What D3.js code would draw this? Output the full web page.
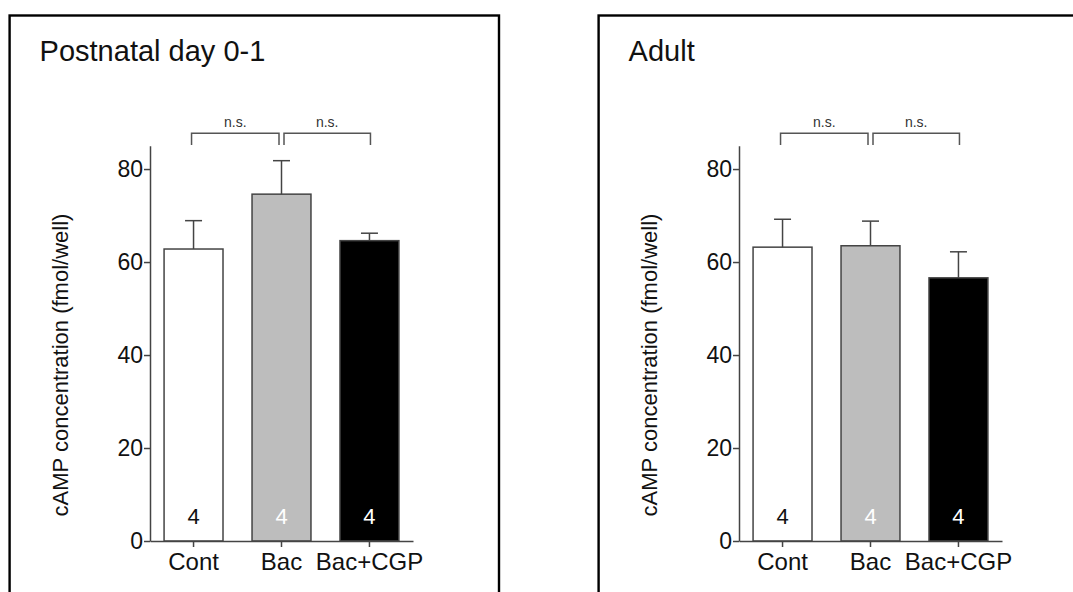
<!DOCTYPE html>
<html>
  <head>
    <meta charset="utf-8">
    <title>cAMP concentration</title>
    <style>
      body { margin: 0; background: #fff; }
      text { font-family: "Liberation Sans", Arial, sans-serif; fill: #111; }
      .axis path, .axis line { stroke: #444; stroke-width: 1.5px; }
      .axis text { font-size: 23px; fill: #111; }
    </style>
  </head>
  <body>
    <script src="https://d3js.org/d3.v7.min.js"></script>
    <script>

        // data
        var categories = ["Cont", "Bac", "Bac+CGP"];
        var panelTitles = ["Postnatal day 0-1", "Adult"];
        var p01Means = [62.8, 74.6, 64.6];
        var p01Sem = [6.1, 7.2, 1.6];
        var adultMeans = [63.2, 63.5, 56.6];
        var adultSem = [6.0, 5.3, 5.6];
        var nCounts = [4, 4, 4];
        var yTicks = [0, 20, 40, 60, 80];
        var barFills = ["#ffffff", "#bdbdbd", "#000000"];
        var countColors = ["#111", "#fff", "#fff"];
        var yLabel = "cAMP concentration (fmol/well)";

        var svg = d3.select("body").append("svg")
            .attr("width", 1073)
            .attr("height", 592);

        // shared scales (each panel is shifted by a translate)
        var x = d3.scaleBand()
                  .domain(categories)
                  .range([150, 413])
                  .paddingInner(0.33)
                  .paddingOuter(0.16);
        var y = d3.scaleLinear()
                  .domain([0, 85])
                  .range([541, 145.8]);

        drawPanel(0, panelTitles[0], p01Means, p01Sem);
        drawPanel(589, panelTitles[1], adultMeans, adultSem);

        function drawPanel(offset, title, means, sems) {
          var g = svg.append("g")
              .attr("transform", "translate(" + offset + ",0)");

          // frame (bottom runs off the picture)
          g.append("rect")
              .attr("x", 9.6)
              .attr("y", 15.5)
              .attr("width", offset > 0 ? 520 : 489.4)
              .attr("height", 620)
              .attr("fill", "none")
              .attr("stroke", "#000")
              .attr("stroke-width", 2.4);

          g.append("text")
              .attr("x", 39.6)
              .attr("y", 61)
              .style("font-size", "29px")
              .text(title);

          var rows = categories.map(function(c, i) {
            return {cat: c, mean: means[i], sem: sems[i], n: nCounts[i], i: i};
          });

          // bars
          g.selectAll(".bar")
              .data(rows)
              .enter().append("rect")
              .attr("class", "bar")
              .attr("x", function(d) { return x(d.cat); })
              .attr("width", x.bandwidth())
              .attr("y", function(d) { return y(d.mean); })
              .attr("height", function(d) { return y(0) - y(d.mean); })
              .attr("fill", function(d) { return barFills[d.i]; })
              .attr("stroke", "#444")
              .attr("stroke-width", 1.5);

          // error bars (upper only)
          var cx = function(d) { return x(d.cat) + x.bandwidth() / 2; };
          g.selectAll(".err")
              .data(rows)
              .enter().append("line")
              .attr("x1", cx).attr("x2", cx)
              .attr("y1", function(d) { return y(d.mean); })
              .attr("y2", function(d) { return y(d.mean + d.sem); })
              .attr("stroke", "#444").attr("stroke-width", 1.5);
          g.selectAll(".cap")
              .data(rows)
              .enter().append("line")
              .attr("x1", function(d) { return cx(d) - 8.5; })
              .attr("x2", function(d) { return cx(d) + 8.5; })
              .attr("y1", function(d) { return y(d.mean + d.sem); })
              .attr("y2", function(d) { return y(d.mean + d.sem); })
              .attr("stroke", "#444").attr("stroke-width", 1.5);

          // n inside bars
          g.selectAll(".count")
              .data(rows)
              .enter().append("text")
              .attr("x", cx)
              .attr("y", 524)
              .attr("text-anchor", "middle")
              .style("font-size", "22px")
              .style("fill", function(d) { return countColors[d.i]; })
              .text(function(d) { return d.n; });

          // axes
          var xAxis = g.append("g")
              .attr("class", "axis")
              .attr("transform", "translate(0," + y(0) + ")")
              .call(d3.axisBottom(x).tickSizeOuter(0).tickSizeInner(6).tickPadding(6));
          xAxis.selectAll("text").style("font-size", "24px").attr("dy", "0.71em");

          g.append("g")
              .attr("class", "axis")
              .attr("transform", "translate(" + x.range()[0] + ",0)")
              .call(d3.axisLeft(y).tickValues(yTicks).tickSizeOuter(0).tickSizeInner(6).tickPadding(1));

          g.append("text")
              .attr("transform", "translate(68," + 365 + ") rotate(-90)")
              .attr("text-anchor", "middle")
              .style("font-size", "22px")
              .text(yLabel);

          // n.s. brackets between neighbouring bars
          var pairs = [[0, 1, -2, -2.5], [1, 2, 2.5, 1]];
          pairs.forEach(function(p) {
            var x1 = cx(rows[p[0]]) + p[2],
                x2 = cx(rows[p[1]]) + p[3];
            g.append("path")
                .attr("d", "M" + x1 + ",145 V133.3 H" + x2 + " V145")
                .attr("fill", "none")
                .attr("stroke", "#555")
                .attr("stroke-width", 1.5);
            g.append("text")
                .attr("x", (x1 + x2) / 2)
                .attr("y", 127.3)
                .attr("text-anchor", "middle")
                .style("font-size", "14px")
                .style("fill", "#333")
                .text("n.s.");
          });
        }

    </script>
  </body>
</html>
